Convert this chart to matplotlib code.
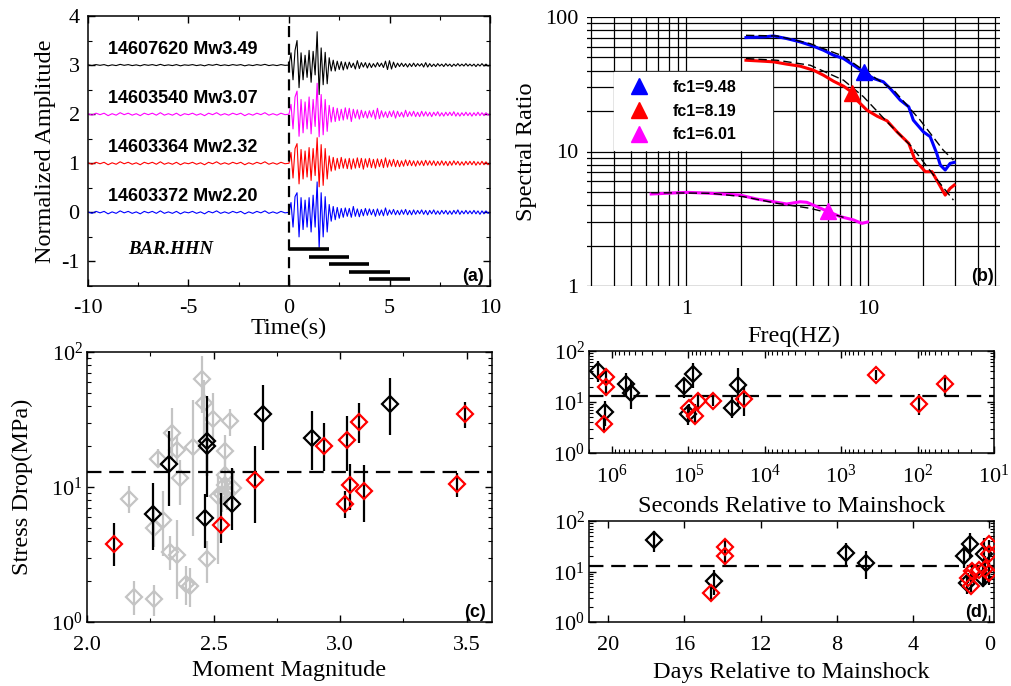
import numpy as np
import matplotlib.pyplot as plt
from matplotlib.ticker import MultipleLocator, LogLocator, NullFormatter, FuncFormatter

plt.rcParams['font.family'] = 'Liberation Serif'
plt.rcParams['mathtext.fontset'] = 'custom'
plt.rcParams['mathtext.rm'] = 'Liberation Serif'
plt.rcParams['axes.unicode_minus'] = False

W, H = 1011, 686

# ---------------- panel (a) waveforms ----------------
wave_labels = ['14607620 Mw3.49', '14603540 Mw3.07', '14603364 Mw2.32', '14603372 Mw2.20']
wave_offsets = [3, 2, 1, 0]
wave_colors = ['black', 'magenta', 'red', 'blue']
pre_scale = [0.5, 1.0, 1.0, 1.0]

# samples every 0.2 s from -10 s to -0.2 s
pre_noise = [0.01, -0.02, 0.02, -0.01, 0.02, -0.03, 0.01, -0.02, 0.03, -0.01,
             0.02, -0.02, 0.01, -0.03, 0.02, -0.01, 0.02, -0.02, 0.03, -0.02,
             0.01, -0.02, 0.02, -0.03, 0.01, -0.01, 0.02, -0.02, 0.01, -0.03,
             0.02, -0.01, 0.03, -0.02, 0.01, -0.02, 0.02, -0.01, 0.02, -0.03,
             0.01, -0.02, 0.02, -0.01, 0.03, -0.02, 0.01, -0.02, 0.02, -0.01]

# samples every 0.1 s from 0 s to 10 s
post_black = [0.00, 0.25, -0.30, 0.30, 0.50, -0.46, 0.25, -0.30, 0.20, -0.25,
              0.30, -0.35, 0.28, -0.20, 0.68, -0.60, 0.35, -0.40, 0.26, -0.38,
              0.15, -0.12, 0.10, -0.12, 0.08, -0.09, 0.07, -0.10, 0.06, -0.08,
              0.06, -0.05, 0.04, -0.08, 0.09, -0.07, 0.05, -0.04, 0.05, -0.06,
              0.04, -0.05, 0.03, -0.04, 0.05, -0.03, 0.04, -0.05, 0.08, -0.09,
              0.09, -0.08, 0.06, -0.05, 0.04, -0.03, 0.04, -0.03, 0.03, -0.04,
              0.03, -0.03, 0.04, -0.03, 0.03, -0.02, 0.03, -0.04, 0.05, -0.04,
              0.03, -0.03, 0.02, -0.03, 0.03, -0.02, 0.02, -0.03, 0.03, -0.02,
              0.02, -0.03, 0.02, -0.02, 0.03, -0.02, 0.02, -0.02, 0.03, -0.02,
              0.02, -0.02, 0.02, -0.03, 0.02, -0.02, 0.03, -0.02, 0.02, -0.02,
              0.00]
post_magenta = [0.00, 0.20, -0.30, 0.35, 0.47, -0.45, 0.30, -0.38, 0.25, -0.30,
                0.35, -0.40, 0.30, -0.25, 0.63, -0.46, 0.40, -0.42, 0.30, -0.35,
                0.18, -0.16, 0.14, -0.15, 0.12, -0.13, 0.10, -0.12, 0.13, -0.10,
                0.12, -0.15, 0.10, -0.08, 0.09, -0.10, 0.08, -0.07, 0.06, -0.08,
                0.07, -0.06, 0.08, -0.10, 0.12, -0.09, 0.07, -0.06, 0.05, -0.07,
                0.06, -0.05, 0.07, -0.08, 0.06, -0.05, 0.04, -0.06, 0.08, -0.05,
                0.05, -0.04, 0.06, -0.05, 0.04, -0.05, 0.06, -0.04, 0.05, -0.04,
                0.04, -0.05, 0.04, -0.03, 0.05, -0.04, 0.03, -0.04, 0.04, -0.03,
                0.04, -0.03, 0.05, -0.04, 0.03, -0.04, 0.03, -0.03, 0.04, -0.03,
                0.03, -0.04, 0.03, -0.03, 0.04, -0.03, 0.03, -0.03, 0.03, -0.02,
                0.00]
post_red = [0.00, 0.22, -0.30, 0.30, 0.40, -0.42, 0.28, -0.32, 0.25, -0.28,
            0.32, -0.35, 0.30, -0.25, 0.52, -0.48, 0.38, -0.45, 0.30, -0.32,
            0.15, -0.16, 0.12, -0.14, 0.10, -0.11, 0.12, -0.10, 0.09, -0.11,
            0.10, -0.12, 0.09, -0.10, 0.11, -0.09, 0.10, -0.12, 0.09, -0.08,
            0.10, -0.09, 0.08, -0.10, 0.09, -0.07, 0.08, -0.09, 0.11, -0.08,
            0.07, -0.06, 0.08, -0.07, 0.06, -0.07, 0.05, -0.06, 0.07, -0.05,
            0.06, -0.05, 0.05, -0.06, 0.05, -0.04, 0.05, -0.05, 0.06, -0.04,
            0.05, -0.04, 0.05, -0.05, 0.04, -0.04, 0.05, -0.04, 0.04, -0.05,
            0.04, -0.04, 0.05, -0.03, 0.04, -0.04, 0.03, -0.04, 0.04, -0.03,
            0.04, -0.03, 0.04, -0.04, 0.03, -0.03, 0.04, -0.03, 0.03, -0.03,
            0.00]
post_blue = [0.00, 0.20, -0.30, 0.32, 0.40, -0.50, 0.30, -0.35, 0.25, -0.30,
             0.30, -0.40, 0.35, -0.30, 0.62, -0.74, 0.40, -0.50, 0.32, -0.40,
             0.16, -0.18, 0.12, -0.15, 0.10, -0.12, 0.08, -0.10, 0.09, -0.08,
             0.08, -0.10, 0.12, -0.08, 0.07, -0.09, 0.06, -0.07, 0.08, -0.06,
             0.07, -0.05, 0.06, -0.08, 0.07, -0.06, 0.05, -0.07, 0.09, -0.06,
             0.05, -0.04, 0.06, -0.05, 0.04, -0.05, 0.05, -0.04, 0.06, -0.05,
             0.04, -0.05, 0.05, -0.04, 0.04, -0.03, 0.05, -0.04, 0.04, -0.05,
             0.04, -0.03, 0.05, -0.04, 0.03, -0.04, 0.04, -0.03, 0.04, -0.04,
             0.03, -0.04, 0.04, -0.03, 0.05, -0.04, 0.03, -0.03, 0.04, -0.03,
             0.03, -0.03, 0.04, -0.03, 0.03, -0.04, 0.03, -0.03, 0.03, -0.02,
             0.00]
post_waves = [post_black, post_magenta, post_red, post_blue]

# analysis windows (s)
win_start = [0, 1, 2, 3, 4]
win_end = [2, 3, 4, 5, 6]
win_level = [-0.74, -0.90, -1.05, -1.21, -1.35]

# ---------------- panel (b) spectral ratios ----------------
freq_blue = [2.13, 2.66, 3.02, 3.57, 4.23, 5.01, 5.68, 6.45, 7.32, 8.30, 9.43, 10.7,
             12.1, 13.2, 15.0, 16.7, 17.7, 20.1, 21.9, 23.8, 24.9, 26.5, 28.2, 29.7]
ratio_blue = [70.3, 71.1, 72.3, 69.1, 65.3, 60.6, 56.6, 52.0, 49.1, 43.8, 39.1, 34.9,
              33.0, 29.4, 24.1, 21.5, 17.1, 14.0, 12.9, 9.68, 7.93, 7.28, 8.16, 8.30]
freq_red = [2.13, 2.66, 3.02, 3.57, 4.23, 5.01, 5.68, 6.45, 7.32, 7.96, 8.66, 9.84,
            11.2, 12.7, 14.4, 16.7, 18.1, 20.6, 22.4, 23.8, 26.5, 28.2, 29.7]
ratio_red = [47.7, 46.9, 46.4, 44.6, 43.1, 40.2, 36.9, 33.3, 30.6, 28.2, 24.1, 20.3,
             18.3, 16.9, 14.0, 11.5, 8.63, 7.08, 7.08, 6.13, 4.74, 5.32, 5.63]
freq_mag = [0.642, 0.783, 1.01, 1.355, 1.98, 2.44, 3.02, 3.57, 4.23, 4.60, 5.22, 6.05,
            7.02, 8.30, 9.23, 9.91]
ratio_mag = [4.83, 4.89, 4.97, 4.89, 4.74, 4.43, 4.23, 4.07, 4.23, 4.19, 3.89, 3.57,
             3.28, 3.10, 2.92, 2.99]

fit_freq_blue = [2.13, 3.15, 4.80, 7.32, 9.43, 13.8, 19.3, 25.9, 29.4]
fit_blue = [73.1, 72.3, 63.4, 51.1, 40.2, 28.6, 17.1, 10.2, 8.63]
fit_freq_red = [2.13, 3.15, 4.80, 7.32, 9.43, 12.7, 17.4, 24.0, 29.4]
fit_red = [49.1, 47.7, 43.8, 33.9, 25.5, 16.6, 10.8, 6.13, 4.35]
fit_freq_mag = [0.642, 1.355, 2.07, 3.15, 4.80, 6.18, 7.32]
fit_mag = [4.94, 4.89, 4.61, 4.12, 3.78, 3.47, 3.24]

fc_values = [9.48, 8.19, 6.01]
fc_ratio = [39.0, 27.0, 3.6]
fc_colors = ['blue', 'red', 'magenta']

# ---------------- panels (c), (d) stress drops ----------------
black_mw = [3.196, 2.259, 2.889, 2.324, 2.473, 2.466, 2.697, 2.572, 2.473]
black_sd = [41.2, 6.34, 22.9, 14.8, 20.2, 5.89, 34.9, 7.52, 22.0]
black_lo = [24.4, 3.44, 13.3, 7.2, 12.0, 3.53, 18.9, 4.83, 8.5]
black_hi = [64.1, 10.7, 36.3, 25.8, 30.0, 8.8, 57.3, 13.8, 46.9]
black_sec = [1.52e6, 1.25e6, 6.5e5, 5.6e5, 1.135e5, 1.0e5, 8.6e4, 2.7e4, 2.25e4]

red_mw = [3.074, 2.935, 2.107, 3.020, 2.530, 3.038, 3.460, 2.664, 3.493, 3.093, 3.027]
red_sd = [30.5, 20.0, 3.78, 7.48, 5.26, 10.3, 10.6, 11.2, 34.5, 9.29, 22.2]
red_lo = [21.2, 13.1, 2.58, 5.9, 3.85, 6.8, 8.5, 5.4, 27.4, 5.47, 13.1]
red_hi = [41.9, 29.8, 5.4, 9.3, 9.0, 14.9, 12.8, 20.0, 42.6, 14.6, 33.7]
red_sec = [1.2e6, 1.2e6, 1.26e6, 9.7e4, 8.3e4, 7.6e4, 4.8e4, 1.9e4, 351, 95, 44]

gray_mw = [2.166, 2.185, 2.264, 2.266, 2.279, 2.301, 2.334, 2.354, 2.328, 2.354, 2.367,
           2.391, 2.407, 2.417, 2.453, 2.464, 2.499, 2.473, 2.546, 2.565, 2.519, 2.532,
           2.546, 2.578, 2.546, 2.552]
gray_sd = [8.2, 1.53, 1.48, 5.0, 16.2, 5.7, 25.1, 18.9, 3.3, 3.15, 11.7,
           1.92, 1.84, 19.8, 63.4, 41.9, 31.9, 2.94, 18.4, 31.0, 8.6, 8.8,
           10.4, 9.8, 12.3, 9.0]
gray_lo = [6.4, 1.13, 1.10, 3.6, 14.0, 3.06, 15.9, 14.5, 2.44, 1.47, 7.4,
           1.34, 1.30, 4.3, 35.3, 22.0, 20.0, 1.95, 13.5, 24.0, 2.7, 6.5,
           7.5, 7.0, 9.0, 6.8]
gray_hi = [10.1, 2.0, 1.89, 7.2, 19.0, 9.3, 38.5, 24.0, 4.3, 5.7, 15.9,
           2.58, 2.5, 44.0, 94.0, 62.0, 49.9, 3.96, 24.4, 38.0, 12.0, 11.5,
           14.0, 13.5, 16.5, 11.5]

median_sd = 13.0
seconds_per_day = 86400.0

GRAY = '#c4c4c4'
TICK_FS = 16
LABEL_FS = 17.5


def add_axes_px(left, top, right, bottom):
    return fig.add_axes([left / W, 1 - bottom / H, (right - left) / W, (bottom - top) / H])


def style_ticks(ax, xpad=7, ypad=6):
    ax.tick_params(which='both', direction='in', top=True, right=True, labelsize=TICK_FS)
    ax.tick_params(which='major', length=5, width=1)
    ax.tick_params(which='minor', length=3, width=0.8)
    ax.tick_params(axis='x', pad=xpad)
    ax.tick_params(axis='y', pad=ypad)
    for s in ax.spines.values():
        s.set_linewidth(1.1)


def panel_tag(ax, tag):
    ax.text(0.985, 0.005, tag, transform=ax.transAxes, ha='right', va='bottom',
            fontsize=13, fontweight='bold', family='Liberation Sans', zorder=10)


def diamonds(ax, x, y, lo, hi, color, ecolor, z):
    y = np.array(y)
    err = [y - np.array(lo), np.array(hi) - y]
    ax.errorbar(x, y, yerr=err, fmt='none', ecolor=ecolor, elinewidth=1.6,
                capsize=0, zorder=z)
    ax.plot(x, y, 'D', ms=8.5, mfc='none', mec=color, mew=1.6, ls='none', zorder=z + 0.5)


fig = plt.figure(figsize=(W / 100, H / 100), dpi=100)

# ---- (a)
ax = add_axes_px(88, 16, 490, 286)
t_pre = np.arange(-10, 0, 0.2)
t_post = np.linspace(0, 10, len(post_black))
for lab, off, col, sc, post in zip(wave_labels, wave_offsets, wave_colors, pre_scale, post_waves):
    t = np.concatenate([t_pre, t_post])
    amp = np.concatenate([np.array(pre_noise) * sc, np.array(post)]) + off
    ax.plot(t, amp, color=col, lw=0.8)
    ax.text(-9.0, off + 0.32, lab, fontsize=13, fontweight='bold',
            family='Liberation Sans', ha='left', va='center')
ax.axvline(0, ymin=0, ymax=(3.86 + 1.5) / 5.5, color='k', lw=1.6, dashes=(5, 3))
ax.hlines(win_level, win_start, win_end, color='k', lw=2.6)
ax.text(-8.0, -0.76, 'BAR.HHN', fontsize=13.5, fontweight='bold', fontstyle='italic',
        ha='left', va='center')
ax.set_xlim(-10, 10)
ax.set_ylim(-1.5, 4)
ax.xaxis.set_major_locator(MultipleLocator(5))
ax.xaxis.set_minor_locator(MultipleLocator(2.5))
ax.yaxis.set_major_locator(MultipleLocator(1))
ax.yaxis.set_minor_locator(MultipleLocator(0.5))
style_ticks(ax, xpad=9)
ax.set_xlabel('Time(s)', fontsize=LABEL_FS, labelpad=0)
ax.set_ylabel('Normalized Amplitude', fontsize=LABEL_FS, labelpad=4)
panel_tag(ax, '(a)')

# ---- (b)
ax = add_axes_px(587, 17, 1000, 286)
ax.set_xscale('log')
ax.set_yscale('log')
ax.plot(freq_blue, ratio_blue, color='blue', lw=2.2, zorder=3)
ax.plot(freq_red, ratio_red, color='red', lw=2.2, zorder=3)
ax.plot(freq_mag, ratio_mag, color='magenta', lw=2.2, zorder=3)
for fx, fy in [(fit_freq_blue, fit_blue), (fit_freq_red, fit_red), (fit_freq_mag, fit_mag)]:
    ax.plot(fx, fy, color='k', lw=1.0, dashes=(6, 3), zorder=4)
for fc, fr, col in zip(fc_values, fc_ratio, fc_colors):
    ax.plot(fc, fr, '^', color=col, ms=12, ls='none', zorder=5, label=f'fc1={fc:.2f}')
ax.set_xlim(0.285, 53)
ax.set_ylim(1, 100)
ax.xaxis.set_major_locator(LogLocator(base=10))
ax.xaxis.set_minor_locator(LogLocator(base=10, subs=np.arange(2, 10)))
ax.yaxis.set_minor_locator(LogLocator(base=10, subs=np.arange(2, 10)))
ax.xaxis.set_minor_formatter(NullFormatter())
ax.yaxis.set_minor_formatter(NullFormatter())
fmt = FuncFormatter(lambda v, p: f'{v:g}')
ax.xaxis.set_major_formatter(fmt)
ax.yaxis.set_major_formatter(fmt)
ax.grid(True, which='both', color='k', lw=0.9, zorder=1)
ax.set_axisbelow(True)
ax.tick_params(which='both', length=0, labelsize=TICK_FS)
ax.tick_params(axis='x', pad=10)
ax.tick_params(axis='y', pad=6)
for s in ax.spines.values():
    s.set_visible(False)
leg = ax.legend(loc='upper left', bbox_to_anchor=(0.065, 0.498, 0.383, 0.298),
                mode='expand', borderaxespad=0, frameon=True, fancybox=False,
                framealpha=1, edgecolor='white', handlelength=2.1, handletextpad=1.1,
                labelspacing=0.55, borderpad=0.5,
                prop={'family': 'Liberation Sans', 'weight': 'bold', 'size': 11.5})
leg.set_zorder(6)
ax.set_xlabel('Freq(HZ)', fontsize=LABEL_FS, labelpad=5)
ax.set_ylabel('Spectral Ratio', fontsize=LABEL_FS, labelpad=6)
panel_tag(ax, '(b)')

# ---- (c)
ax = add_axes_px(87, 352, 492, 622)
ax.set_yscale('log')
diamonds(ax, gray_mw, gray_sd, gray_lo, gray_hi, GRAY, GRAY, 2)
diamonds(ax, black_mw, black_sd, black_lo, black_hi, 'k', 'k', 4)
diamonds(ax, red_mw, red_sd, red_lo, red_hi, 'red', 'k', 4)
ax.axhline(median_sd, color='k', lw=1.6, dashes=(6.5, 3.5), zorder=3)
ax.set_xlim(2.0, 3.6)
ax.set_ylim(1, 100)
ax.xaxis.set_major_locator(MultipleLocator(0.5))
ax.xaxis.set_minor_locator(MultipleLocator(0.25))
ax.xaxis.set_major_formatter(FuncFormatter(lambda v, p: f'{v:.1f}'))
style_ticks(ax, xpad=10, ypad=3)
ax.set_xlabel('Moment Magnitude', fontsize=LABEL_FS, labelpad=4)
ax.set_ylabel('Stress Drop(MPa)', fontsize=LABEL_FS, labelpad=13)
panel_tag(ax, '(c)')

# ---- (d) top: seconds
ax = add_axes_px(589, 351, 994, 453)
ax.set_xscale('log')
ax.set_yscale('log')
diamonds(ax, black_sec, black_sd, black_lo, black_hi, 'k', 'k', 4)
diamonds(ax, red_sec, red_sd, red_lo, red_hi, 'red', 'k', 4)
ax.axhline(median_sd, color='k', lw=1.6, dashes=(6.5, 3.5), zorder=3)
ax.set_xlim(2e6, 10)
ax.set_ylim(1, 100)
ax.xaxis.set_major_locator(LogLocator(base=10))
ax.xaxis.set_minor_locator(LogLocator(base=10, subs=np.arange(2, 10)))
ax.xaxis.set_minor_formatter(NullFormatter())
style_ticks(ax, xpad=8, ypad=3)
ax.set_xlabel('Seconds Relative to Mainshock', fontsize=LABEL_FS, labelpad=6)

# ---- (d) bottom: days
ax = add_axes_px(589, 521, 994, 622)
ax.set_yscale('log')
diamonds(ax, np.array(black_sec) / seconds_per_day, black_sd, black_lo, black_hi, 'k', 'k', 4)
diamonds(ax, np.array(red_sec) / seconds_per_day, red_sd, red_lo, red_hi, 'red', 'k', 4)
ax.axhline(median_sd, color='k', lw=1.6, dashes=(6.5, 3.5), zorder=3)
ax.set_xlim(21, -0.25)
ax.set_ylim(1, 100)
ax.xaxis.set_major_locator(MultipleLocator(4))
style_ticks(ax, xpad=10, ypad=3)
ax.set_xlabel('Days Relative to Mainshock', fontsize=LABEL_FS, labelpad=5)
panel_tag(ax, '(d)')

fig.savefig('out.png', dpi=100)
